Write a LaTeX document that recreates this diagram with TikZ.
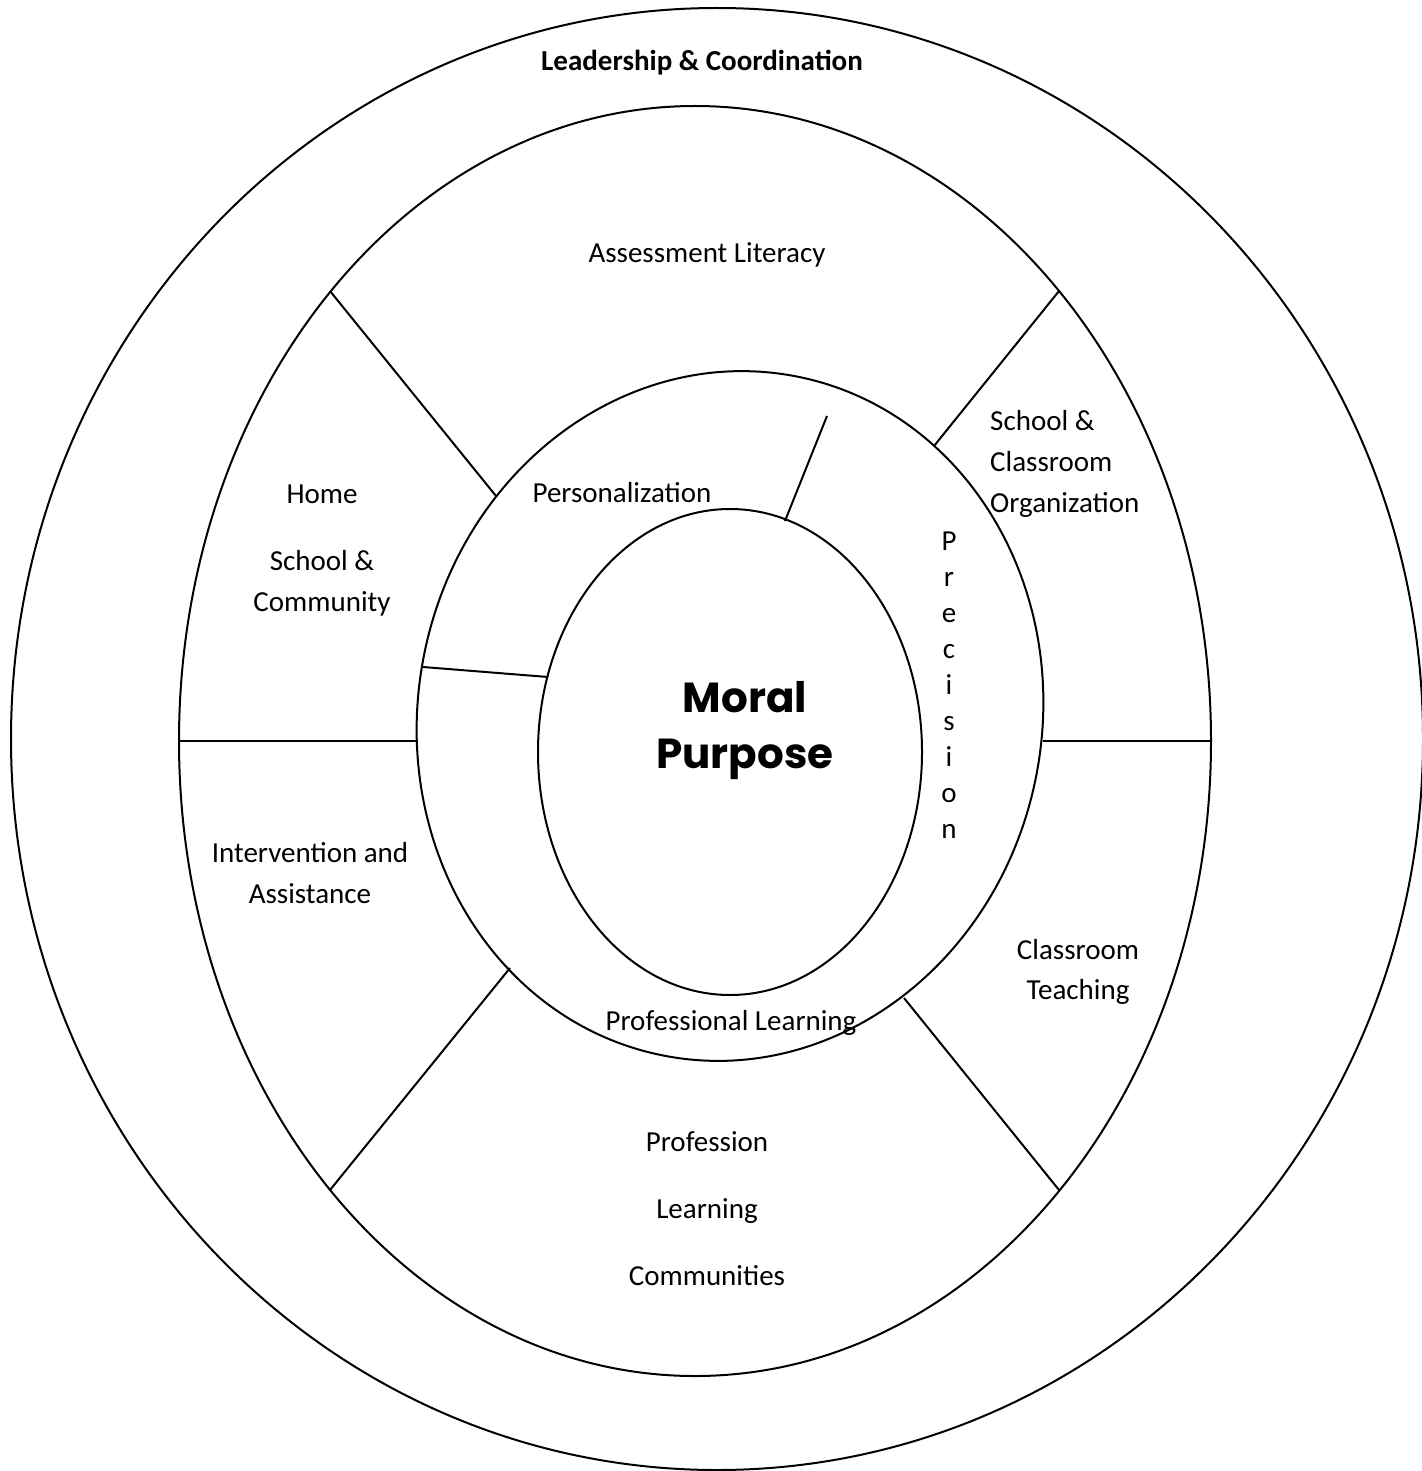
\documentclass[tikz,border=0pt]{standalone}
\usepackage{fontspec}
\setmainfont{Carlito}
\newfontfamily\geofont{Poppins}
\begin{document}
\begin{tikzpicture}[x=1pt,y=-1pt,
  ring/.style={line width=2pt},
  divider/.style={line width=2pt},
  lbl/.style={inner sep=0pt,anchor=base,font=\fontsize{29}{41}\selectfont},
  lblw/.style={inner sep=0pt,anchor=base west,font=\fontsize{29}{41}\selectfont},
  hub/.style={inner sep=0pt,anchor=base,font=\geofont\bfseries\fontsize{42}{56}\selectfont}]
\useasboundingbox[fill=white] (0,0) rectangle (1421,1471);

% concentric rings
\coordinate (cOuter) at (717,739);
\coordinate (cMid)   at (695,741);
\coordinate (cInner) at (730,716);
\coordinate (cCore)  at (730,752);
\draw[ring] (cOuter) ellipse [x radius=706pt, y radius=731pt];
\draw[ring] (cMid)   ellipse [x radius=516pt, y radius=635pt];
\draw[ring, rotate around={-11:(cInner)}] (cInner) ellipse [x radius=312pt, y radius=346pt];
\draw[ring] (cCore)  ellipse [x radius=192pt, y radius=243pt];

% spokes of the middle ring
\coordinate (ulA) at (330,291);  \coordinate (ulB) at (496,496);
\coordinate (urA) at (1059,291); \coordinate (urB) at (934,446);
\coordinate (llA) at (330,1190); \coordinate (llB) at (510,968);
\coordinate (lrA) at (1059,1190);\coordinate (lrB) at (904,998);
\coordinate (lhA) at (180,741);  \coordinate (lhB) at (417,741);
\coordinate (rhA) at (1043,741); \coordinate (rhB) at (1211,741);
\draw[divider] (ulA) -- (ulB);
\draw[divider] (urA) -- (urB);
\draw[divider] (llA) -- (llB);
\draw[divider] (lrA) -- (lrB);
\draw[divider] (lhA) -- (lhB);
\draw[divider] (rhA) -- (rhB);

% spokes of the inner ring
\coordinate (isA) at (827,416); \coordinate (isB) at (785,521);
\coordinate (ilA) at (423,667); \coordinate (ilB) at (548,677);
\draw[divider] (isA) -- (isB);
\draw[divider] (ilA) -- (ilB);

% outer ring
\node[lbl,font=\bfseries\fontsize{29}{41}\selectfont] (lead) at (702,71) {Leadership \& Coordination};

% middle ring
\node[lbl] (assess) at (707,262) {Assessment Literacy};
\node[lbl] (home1) at (322,503) {Home};
\node[lbl] (home2) at (322,570) {School \&};
\node[lbl] (home3) at (322,611) {Community};
\node[lblw] (org1) at (990,430) {School \&};
\node[lblw] (org2) at (990,471) {Classroom};
\node[lblw] (org3) at (990,512) {Organization};
\node[lbl] (int1) at (310,862) {Intervention and};
\node[lbl] (int2) at (310,903) {Assistance};
\node[lbl] (cls1) at (1078,959) {Classroom};
\node[lbl] (cls2) at (1078,999) {Teaching};
\node[lbl] (plc1) at (707,1151) {Profession};
\node[lbl] (plc2) at (707,1218) {Learning};
\node[lbl] (plc3) at (707,1285) {Communities};

% inner ring
\node[lbl] (pers) at (622,502) {Personalization};
\node[lbl] (prof) at (731,1030) {Professional Learning};
\foreach \ch [count=\k from 0] in {P,r,e,c,i,s,i,o,n}
  \node[lbl] (prec\k) at (949,550+36*\k) {\ch};

% core
\node[hub] (moral) at (745,712) {Moral};
\node[hub] (purpose) at (745,768) {Purpose};
\end{tikzpicture}
\end{document}
